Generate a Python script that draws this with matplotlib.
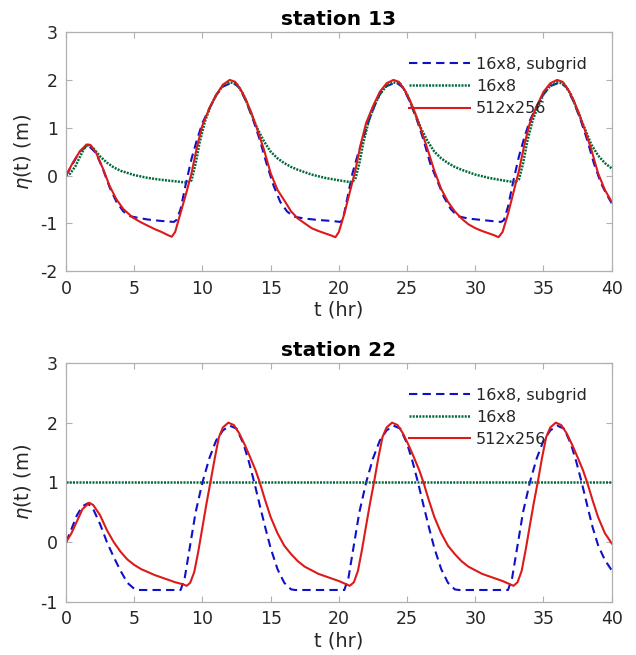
import matplotlib
matplotlib.use("Agg")
import matplotlib.pyplot as plt

# station 13
t13_sub = [0, 0.5, 1.0, 1.6, 2.2, 2.7, 3.2, 3.7, 4.2, 4.7, 5.2, 6.0, 7.0, 7.9, 8.1, 8.4, 8.8, 9.2, 9.6, 10.0,
           10.5, 11.0, 11.5, 12.2, 12.7, 13.2, 13.7, 14.2, 14.7, 15.2, 15.7, 16.2, 16.7, 17.5, 18.5, 19.5, 20.1, 20.3,
           20.6, 21.0, 21.4, 21.8, 22.2, 22.6, 23.0, 23.5, 24.2, 24.7, 25.2, 25.7, 26.2, 26.7, 27.2, 27.7, 28.2,
           28.7, 29.5, 30.5, 31.5, 31.9, 32.1, 32.4, 32.8, 33.2, 33.6, 34.0, 34.5, 35.0, 35.5, 36.2, 36.7, 37.2,
           37.7, 38.2, 38.7, 39.2, 39.6, 40.0]
y13_sub = [0, 0.25, 0.5, 0.64, 0.47, 0.14, -0.25, -0.55, -0.75, -0.85, -0.88, -0.92, -0.95, -0.97, -0.93, -0.7,
           -0.15, 0.35, 0.75, 1.1, 1.4, 1.68, 1.86, 1.95, 1.84, 1.55, 1.18, 0.75, 0.25, -0.2, -0.55, -0.75, -0.86,
           -0.9, -0.93, -0.95, -0.97, -0.92, -0.5, 0.05, 0.45, 0.8, 1.15, 1.45, 1.7, 1.87, 1.95, 1.84, 1.55, 1.18,
           0.75, 0.25, -0.1, -0.45, -0.7, -0.85, -0.9, -0.93, -0.96, -0.97, -0.93, -0.65, -0.1, 0.4, 0.8, 1.15,
           1.45, 1.7, 1.87, 1.95, 1.84, 1.55, 1.18, 0.75, 0.25, -0.15, -0.38, -0.58]

t13_coarse = [0, 0.3, 0.7, 1.0, 1.3, 1.6, 2.0, 2.5, 3.0, 3.5, 4.0, 5.0, 6.0, 7.0, 8.0, 8.9, 9.2, 9.5, 9.8, 10.2,
              10.6, 11.0, 11.5, 12.0, 12.5, 13.0, 13.5, 14.0, 14.5, 15.0, 15.5, 16.0, 16.5, 17.0, 18.0, 19.0, 20.0,
              20.9, 21.2, 21.5, 21.8, 22.2, 22.6, 23.0, 23.5, 24.0, 24.5, 25.0, 25.5, 26.0, 26.5, 27.0, 27.5, 28.0,
              28.5, 29.0, 30.0, 31.0, 32.0, 32.9, 33.2, 33.5, 33.8, 34.2, 34.6, 35.0, 35.5, 36.0, 36.5, 37.0, 37.5,
              38.0, 38.5, 39.0, 39.5, 40.0]
y13_coarse = [0, 0.04, 0.2, 0.38, 0.55, 0.65, 0.57, 0.4, 0.27, 0.17, 0.1, 0.01, -0.05, -0.09, -0.12, -0.15,
              -0.1, 0.25, 0.7, 1.15, 1.45, 1.68, 1.88, 1.95, 1.92, 1.7, 1.35, 1.0, 0.72, 0.5, 0.36, 0.26, 0.18,
              0.12, 0.02, -0.05, -0.1, -0.14, -0.08, 0.25, 0.7, 1.15, 1.45, 1.7, 1.88, 1.95, 1.92, 1.7, 1.35, 1.0,
              0.72, 0.5, 0.36, 0.26, 0.18, 0.12, 0.02, -0.05, -0.1, -0.14, -0.08, 0.25, 0.7, 1.15, 1.45, 1.7, 1.88,
              1.95, 1.92, 1.7, 1.35, 1.0, 0.65, 0.42, 0.26, 0.15]

t13_fine = [0, 0.5, 1.0, 1.5, 1.8, 2.2, 2.7, 3.2, 3.7, 4.2, 4.9, 5.5, 6.0, 6.5, 7.0, 7.5, 7.75, 8.0, 8.4, 8.8,
            9.2, 9.6, 10.0, 10.5, 11.0, 11.5, 12.0, 12.4, 12.8, 13.2, 13.6, 14.0, 14.5, 15.0, 15.5, 16.0, 16.5,
            17.0, 17.5, 18.0, 18.5, 19.0, 19.4, 19.75, 20.0, 20.4, 20.8, 21.2, 21.6, 22.0, 22.5, 23.0, 23.5, 24.0,
            24.4, 24.8, 25.2, 25.6, 26.0, 26.5, 27.0, 27.5, 28.0, 28.5, 29.0, 29.5, 30.0, 30.5, 31.0, 31.4, 31.7,
            32.0, 32.4, 32.8, 33.2, 33.6, 34.0, 34.5, 35.0, 35.5, 36.0, 36.4, 36.8, 37.2, 37.6, 38.0, 38.5, 39.0,
            39.5, 40.0]
y13_fine = [0, 0.27, 0.5, 0.65, 0.64, 0.48, 0.15, -0.22, -0.5, -0.7, -0.88, -0.98, -1.05, -1.12, -1.18, -1.25,
            -1.28, -1.18, -0.78, -0.38, 0.05, 0.6, 1.05, 1.4, 1.68, 1.9, 2.0, 1.96, 1.8, 1.58, 1.3, 0.98, 0.55,
            0.05, -0.3, -0.52, -0.75, -0.9, -1.0, -1.1, -1.16, -1.21, -1.25, -1.29, -1.18, -0.8, -0.35, 0.1, 0.65,
            1.1, 1.45, 1.75, 1.93, 2.0, 1.96, 1.8, 1.58, 1.3, 0.98, 0.55, 0.1, -0.28, -0.55, -0.75, -0.9, -1.02,
            -1.1, -1.16, -1.21, -1.25, -1.29, -1.18, -0.8, -0.35, 0.1, 0.65, 1.1, 1.45, 1.75, 1.93, 2.0, 1.96, 1.8,
            1.58, 1.3, 0.98, 0.55, 0.05, -0.3, -0.55]

# station 22
t22_sub = [0, 0.4, 0.8, 1.2, 1.6, 2.0, 2.5, 3.0, 3.5, 4.0, 4.5, 5.0, 5.3, 8.4, 8.7, 9.1, 9.5, 10.0, 10.5, 11.0,
           11.5, 12.0, 12.5, 13.0, 13.4, 13.8, 14.2, 14.6, 15.0, 15.5, 16.0, 16.5, 16.8, 20.4, 20.7, 21.1, 21.5,
           22.0, 22.5, 23.0, 23.5, 24.0, 24.5, 25.0, 25.4, 25.8, 26.2, 26.6, 27.0, 27.5, 28.0, 28.5, 28.8, 32.4,
           32.7, 33.1, 33.5, 34.0, 34.5, 35.0, 35.5, 36.0, 36.5, 37.0, 37.4, 37.8, 38.2, 38.6, 39.0, 39.5, 40.0]
y22_sub = [0, 0.22, 0.45, 0.6, 0.65, 0.55, 0.3, 0.0, -0.25, -0.48, -0.68, -0.78, -0.8, -0.8, -0.6, -0.05, 0.5,
           1.0, 1.4, 1.7, 1.87, 1.95, 1.9, 1.65, 1.35, 1.0, 0.62, 0.25, -0.1, -0.45, -0.68, -0.79, -0.8, -0.8,
           -0.6, -0.05, 0.5, 1.0, 1.4, 1.7, 1.87, 1.95, 1.9, 1.65, 1.35, 1.0, 0.62, 0.25, -0.1, -0.45, -0.68,
           -0.79, -0.8, -0.8, -0.6, -0.05, 0.5, 1.0, 1.4, 1.7, 1.87, 1.95, 1.9, 1.65, 1.35, 1.0, 0.62, 0.25,
           -0.05, -0.3, -0.47]

t22_coarse = [0, 40]
y22_coarse = [1.0, 1.0]

t22_fine = [0, 0.4, 0.8, 1.2, 1.7, 2.0, 2.5, 3.0, 3.5, 4.0, 4.5, 5.0, 5.5, 6.0, 6.5, 7.0, 7.5, 8.0, 8.5, 8.85,
            9.1, 9.4, 9.7, 10.0, 10.3, 10.6, 10.9, 11.2, 11.5, 11.9, 12.3, 12.7, 13.1, 13.5, 13.9, 14.2, 14.6,
            15.0, 15.5, 16.0, 16.5, 17.0, 17.5, 18.0, 18.5, 19.0, 19.5, 20.0, 20.4, 20.8, 21.1, 21.4, 21.7, 22.0,
            22.3, 22.6, 22.9, 23.2, 23.5, 23.9, 24.3, 24.7, 25.1, 25.5, 25.9, 26.2, 26.6, 27.0, 27.5, 28.0, 28.5,
            29.0, 29.5, 30.0, 30.5, 31.0, 31.5, 32.0, 32.4, 32.8, 33.1, 33.4, 33.7, 34.0, 34.3, 34.6, 34.9, 35.2,
            35.5, 35.9, 36.3, 36.7, 37.1, 37.5, 37.9, 38.2, 38.6, 39.0, 39.5, 40.0]
y22_fine = [0, 0.15, 0.35, 0.55, 0.66, 0.62, 0.45, 0.2, 0.0, -0.16, -0.29, -0.38, -0.45, -0.5, -0.55, -0.59,
            -0.63, -0.67, -0.7, -0.73, -0.68, -0.5, -0.15, 0.25, 0.65, 1.02, 1.4, 1.75, 1.92, 2.0, 1.96, 1.82,
            1.63, 1.42, 1.2, 1.0, 0.7, 0.42, 0.15, -0.06, -0.2, -0.32, -0.41, -0.47, -0.53, -0.57, -0.61, -0.65,
            -0.69, -0.73, -0.67, -0.48, -0.12, 0.28, 0.67, 1.03, 1.42, 1.76, 1.92, 2.0, 1.96, 1.82, 1.63, 1.42,
            1.2, 1.0, 0.7, 0.42, 0.15, -0.06, -0.2, -0.32, -0.41, -0.47, -0.53, -0.57, -0.61, -0.65, -0.69, -0.73,
            -0.67, -0.48, -0.12, 0.28, 0.67, 1.03, 1.42, 1.76, 1.92, 2.0, 1.96, 1.82, 1.63, 1.42, 1.2, 1.0, 0.7,
            0.42, 0.15, -0.02]

labels = ["16x8, subgrid", "16x8", "512x256"]
titles = ["station 13", "station 22"]

plt.rcParams["axes.unicode_minus"] = False
plt.rcParams["font.family"] = "DejaVu Sans"

fig = plt.figure(figsize=(6.36, 6.55), dpi=100)
ax1 = fig.add_axes([0.1038, 0.586, 0.858, 0.365])
ax2 = fig.add_axes([0.1038, 0.081, 0.858, 0.365])

txt = "#262626"
edge = "#b0b0b0"

panels = [
    (ax1, t13_sub, y13_sub, t13_coarse, y13_coarse, t13_fine, y13_fine, (-2, 3)),
    (ax2, t22_sub, y22_sub, t22_coarse, y22_coarse, t22_fine, y22_fine, (-1, 3)),
]

for i, (ax, ts, ys, tc, yc, tf, yf, ylim) in enumerate(panels):
    ax.plot(ts, ys, "--", color="#1010c8", lw=1.5, dashes=(4, 2.5), label=labels[0])
    ax.plot(tc, yc, ":", color="#006a3a", lw=1.8, dashes=(0.8, 0.5), label=labels[1])
    ax.plot(tf, yf, "-", color="#dd1a1a", lw=1.5, label=labels[2])
    ax.set_xlim(0, 40)
    ax.set_ylim(*ylim)
    ax.set_xticks(range(0, 41, 5))
    ax.set_yticks(range(ylim[0], ylim[1] + 1))
    ax.tick_params(direction="in", top=True, right=True, labelsize=12.5, colors=txt,
                   length=4, width=0.8, pad=6)
    ax.tick_params(axis="both", which="both", color=edge)
    for s in ax.spines.values():
        s.set_color(edge)
        s.set_linewidth(0.9)
    ax.set_xlabel("t (hr)", fontsize=14, color=txt, labelpad=2)
    ax.set_ylabel(r"$\eta$(t) (m)", fontsize=14, color=txt, labelpad=4)
    ax.set_title(titles[i], fontsize=14.5, fontweight="bold", pad=5)
    ax.legend(loc="upper right", frameon=False, fontsize=11.5, handlelength=3.8,
              handletextpad=0.4, labelspacing=0.45, borderaxespad=1.15,
              labelcolor=txt)

fig.savefig("out.png", dpi=100)
